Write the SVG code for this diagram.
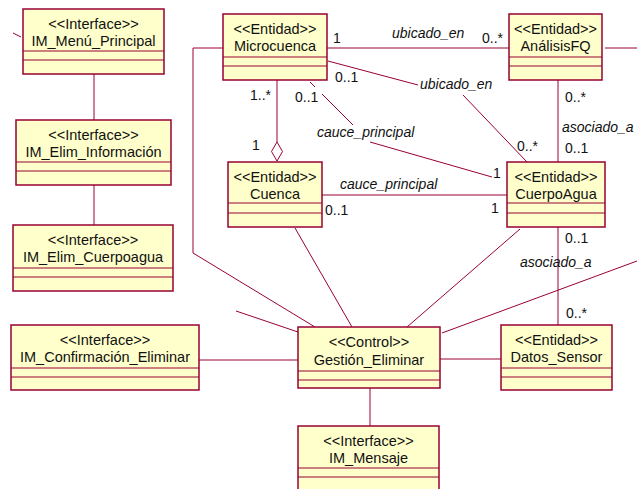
<svg xmlns="http://www.w3.org/2000/svg" width="637" height="489" viewBox="0 0 637 489">
<style>
.box{fill:#FFFFCC;stroke:#990033;stroke-width:1.5}
.sep{stroke:#990033;stroke-width:1.2;fill:none}
.t{font-family:"Liberation Sans",Arial,sans-serif;font-size:14.5px;fill:#111;text-anchor:middle}
.ln{stroke:#990033;stroke-width:1;fill:none}
.lb{font-family:"Liberation Sans",Arial,sans-serif;font-size:14px;fill:#111}
.it{font-style:italic}
</style>
<rect width="637" height="489" fill="#fff"/>
<g id="connectors">
<line class="ln" x1="94" y1="74" x2="94" y2="120"/>
<line class="ln" x1="94" y1="185" x2="94" y2="225"/>
<line class="ln" x1="13" y1="33" x2="21" y2="37"/>
<polyline class="ln" points="223,48 193,48 193,253 315,327"/>
<line class="ln" x1="236" y1="311" x2="298" y2="332"/>
<line class="ln" x1="327" y1="48" x2="509" y2="48"/>
<line class="ln" x1="605" y1="48" x2="637" y2="48"/>
<line class="ln" x1="328" y1="61" x2="418" y2="85"/>
<line class="ln" x1="463" y1="95" x2="527" y2="162"/>
<line class="ln" x1="310" y1="82" x2="315" y2="87"/>
<line class="ln" x1="322" y1="94" x2="353" y2="125"/>
<line class="ln" x1="370" y1="142" x2="492" y2="177"/>
<line class="ln" x1="277" y1="80" x2="277" y2="142"/>
<polygon class="ln" style="fill:#fff" points="277,142 282.5,151.5 277,161 271.5,151.5"/>
<line class="ln" x1="322" y1="195" x2="507" y2="195"/>
<line class="ln" x1="558" y1="80" x2="558" y2="162"/>
<line class="ln" x1="558" y1="227" x2="558" y2="325"/>
<line class="ln" x1="295" y1="228" x2="352" y2="327"/>
<line class="ln" x1="520" y1="229" x2="407" y2="327"/>
<line class="ln" x1="442" y1="333" x2="637" y2="261"/>
<line class="ln" x1="199" y1="360" x2="298" y2="360"/>
<line class="ln" x1="440" y1="359" x2="501" y2="359"/>
<line class="ln" x1="370" y1="388" x2="370" y2="426"/>
<text class="lb" x="333" y="43">1</text>
<text class="lb it" x="392" y="38">ubicado_en</text>
<text class="lb" x="482" y="43">0..*</text>
<text class="lb" x="335" y="82">0..1</text>
<text class="lb it" x="420" y="89">ubicado_en</text>
<text class="lb" x="517" y="151">0..*</text>
<text class="lb" x="250" y="100">1..*</text>
<text class="lb" x="252" y="150">1</text>
<text class="lb" x="295" y="102">0..1</text>
<text class="lb it" x="317" y="137">cauce_principal</text>
<text class="lb" x="493" y="178">1</text>
<text class="lb it" x="340" y="189">cauce_principal</text>
<text class="lb" x="325" y="215">0..1</text>
<text class="lb" x="491" y="213">1</text>
<text class="lb" x="565" y="102">0..*</text>
<text class="lb it" x="562" y="132">asociado_a</text>
<text class="lb" x="565" y="153">0..1</text>
<text class="lb" x="565" y="243">0..1</text>
<text class="lb it" x="520" y="267">asociado_a</text>
<text class="lb" x="566" y="318">0..*</text>
</g>
<g id="IM_Menu_Principal">
<rect class="box" x="23" y="9" width="141" height="65"/>
<line class="sep" x1="23" y1="51" x2="164" y2="51"/><line class="sep" x1="23" y1="60" x2="164" y2="60"/>
<text class="t" x="93.5" y="28.5">&lt;&lt;Interface&gt;&gt;</text><text class="t" x="93.5" y="46">IM_Menú_Principal</text>
</g>
<g id="IM_Elim_Informacion">
<rect class="box" x="16" y="120" width="155" height="65"/>
<line class="sep" x1="16" y1="162" x2="171" y2="162"/><line class="sep" x1="16" y1="171" x2="171" y2="171"/>
<text class="t" x="93.5" y="139.5">&lt;&lt;Interface&gt;&gt;</text><text class="t" x="93.5" y="157">IM_Elim_Información</text>
</g>
<g id="IM_Elim_Cuerpoagua">
<rect class="box" x="13" y="225" width="160" height="66"/>
<line class="sep" x1="13" y1="268" x2="173" y2="268"/><line class="sep" x1="13" y1="277" x2="173" y2="277"/>
<text class="t" x="93" y="244.5">&lt;&lt;Interface&gt;&gt;</text><text class="t" x="93" y="262">IM_Elim_Cuerpoagua</text>
</g>
<g id="Microcuenca">
<rect class="box" x="223" y="14" width="104" height="66"/>
<line class="sep" x1="223" y1="57" x2="327" y2="57"/><line class="sep" x1="223" y1="66" x2="327" y2="66"/>
<text class="t" x="275" y="33.5">&lt;&lt;Entidad&gt;&gt;</text><text class="t" x="275" y="51">Microcuenca</text>
</g>
<g id="AnalisisFQ">
<rect class="box" x="509" y="14" width="93" height="66"/>
<line class="sep" x1="509" y1="57" x2="602" y2="57"/><line class="sep" x1="509" y1="66" x2="602" y2="66"/>
<text class="t" x="555.5" y="33.5">&lt;&lt;Entidad&gt;&gt;</text><text class="t" x="555.5" y="51">AnálisisFQ</text>
</g>
<g id="Cuenca">
<rect class="box" x="228" y="162" width="94" height="65"/>
<line class="sep" x1="228" y1="203" x2="322" y2="203"/><line class="sep" x1="228" y1="213" x2="322" y2="213"/>
<text class="t" x="275" y="181.5">&lt;&lt;Entidad&gt;&gt;</text><text class="t" x="275" y="199">Cuenca</text>
</g>
<g id="CuerpoAgua">
<rect class="box" x="507" y="162" width="98" height="65"/>
<line class="sep" x1="507" y1="203" x2="605" y2="203"/><line class="sep" x1="507" y1="213" x2="605" y2="213"/>
<text class="t" x="556" y="181.5">&lt;&lt;Entidad&gt;&gt;</text><text class="t" x="556" y="199">CuerpoAgua</text>
</g>
<g id="IM_Confirmacion_Eliminar">
<rect class="box" x="11" y="325" width="188" height="65"/>
<line class="sep" x1="11" y1="368" x2="199" y2="368"/><line class="sep" x1="11" y1="377" x2="199" y2="377"/>
<text class="t" x="105" y="344.5">&lt;&lt;Interface&gt;&gt;</text><text class="t" x="105" y="362">IM_Confirmación_Eliminar</text>
</g>
<g id="Gestion_Eliminar">
<rect class="box" x="298" y="327" width="142" height="61"/>
<line class="sep" x1="298" y1="371" x2="440" y2="371"/><line class="sep" x1="298" y1="380" x2="440" y2="380"/>
<text class="t" x="369" y="347">&lt;&lt;Control&gt;&gt;</text><text class="t" x="369" y="364.5">Gestión_Eliminar</text>
</g>
<g id="Datos_Sensor">
<rect class="box" x="501" y="325" width="111" height="65"/>
<line class="sep" x1="501" y1="368" x2="612" y2="368"/><line class="sep" x1="501" y1="377" x2="612" y2="377"/>
<text class="t" x="556.5" y="344.5">&lt;&lt;Entidad&gt;&gt;</text><text class="t" x="556.5" y="362">Datos_Sensor</text>
</g>
<g id="IM_Mensaje">
<rect class="box" x="298" y="426" width="141" height="66"/>
<line class="sep" x1="298" y1="468" x2="439" y2="468"/><line class="sep" x1="298" y1="477" x2="439" y2="477"/>
<text class="t" x="368.5" y="445.5">&lt;&lt;Interface&gt;&gt;</text><text class="t" x="368.5" y="463">IM_Mensaje</text>
</g>
</svg>
